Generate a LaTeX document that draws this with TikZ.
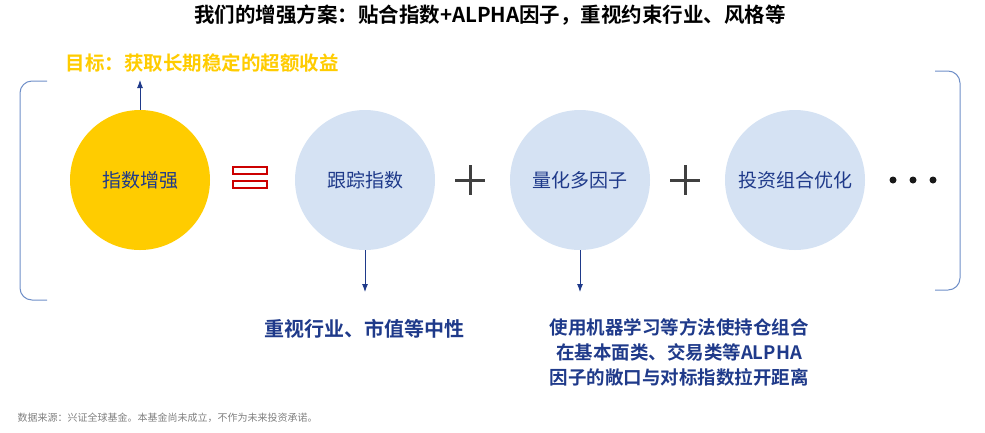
\documentclass[tikz,border=0pt]{standalone}
\usepackage{fontspec}
\usetikzlibrary{arrows.meta}
\setmainfont{Noto Sans CJK SC}
\newfontfamily\cjkb{Noto Sans CJK SC Bold}
\definecolor{dblue}{HTML}{1F3A8A}
\definecolor{lblue}{HTML}{D5E2F3}
\definecolor{gold}{HTML}{FFCC00}
\definecolor{brk}{HTML}{6F8FC8}
\begin{document}
\begin{tikzpicture}[x=1pt,y=-1pt,
  circ/.style={circle,minimum size=140pt,inner sep=0pt,font=\fontsize{19}{22}\selectfont,text=dblue},
  arr/.style={-{Latex[length=8pt,width=6pt]},dblue,line width=0.9pt},
  btext/.style={font=\cjkb\fontsize{18.5}{25}\selectfont,text=dblue,align=center}]
\useasboundingbox (0,0) rectangle (985,432);
\node[font=\cjkb\fontsize{20.5}{22}\selectfont] (title) at (490,15) {我们的增强方案：贴合指数+ALPHA因子，重视约束行业、风格等};
\node[font=\cjkb\fontsize{19.5}{22}\selectfont,text=gold,anchor=west] (goal) at (62,63) {目标：获取长期稳定的超额收益};
\node[circ,fill=gold] (c1) at (140,180) {指数增强};
\node[circ,fill=lblue] (c2) at (365,180) {跟踪指数};
\node[circ,fill=lblue] (c3) at (580,180) {量化多因子};
\node[circ,fill=lblue] (c4) at (795,180) {投资组合优化};
\draw[red!80!black,line width=1.5pt] (233,167) rectangle (267,174) (233,181) rectangle (267,188);
\draw[gray!50!black,line width=3pt] (455,180) -- (485,180) (470,165) -- (470,195);
\draw[gray!50!black,line width=3pt] (670,180) -- (700,180) (685,165) -- (685,195);
\foreach \x in {893,913,933} \fill[gray!20!black] (\x,180) circle (3.5pt);
\draw[brk,line width=1pt,rounded corners=12pt] (47,81) -- (20,81) -- (20,300) -- (47,300);
\draw[brk,line width=1pt,rounded corners=12pt] (935,71) -- (960,71) -- (960,290) -- (935,290);
\coordinate (g) at (140,80);
\coordinate (d2) at (365,292);
\coordinate (d3) at (580,292);
\draw[arr] (c1.north) -- (g);
\draw[arr] (c2.south) -- (d2);
\draw[arr] (c3.south) -- (d3);
\node[btext,font=\cjkb\fontsize{20}{25}\selectfont] (t1) at (364,329) {重视行业、市值等中性};
\node[btext,anchor=north] (t2) at (679,315) {使用机器学习等方法使持仓组合\\在基本面类、交易类等ALPHA\\因子的敞口与对标指数拉开距离};
\node[font=\fontsize{10}{11}\selectfont,text=gray,anchor=west] (src) at (14,418) {数据来源：兴证全球基金。本基金尚未成立，不作为未来投资承诺。};
\end{tikzpicture}
\end{document}
